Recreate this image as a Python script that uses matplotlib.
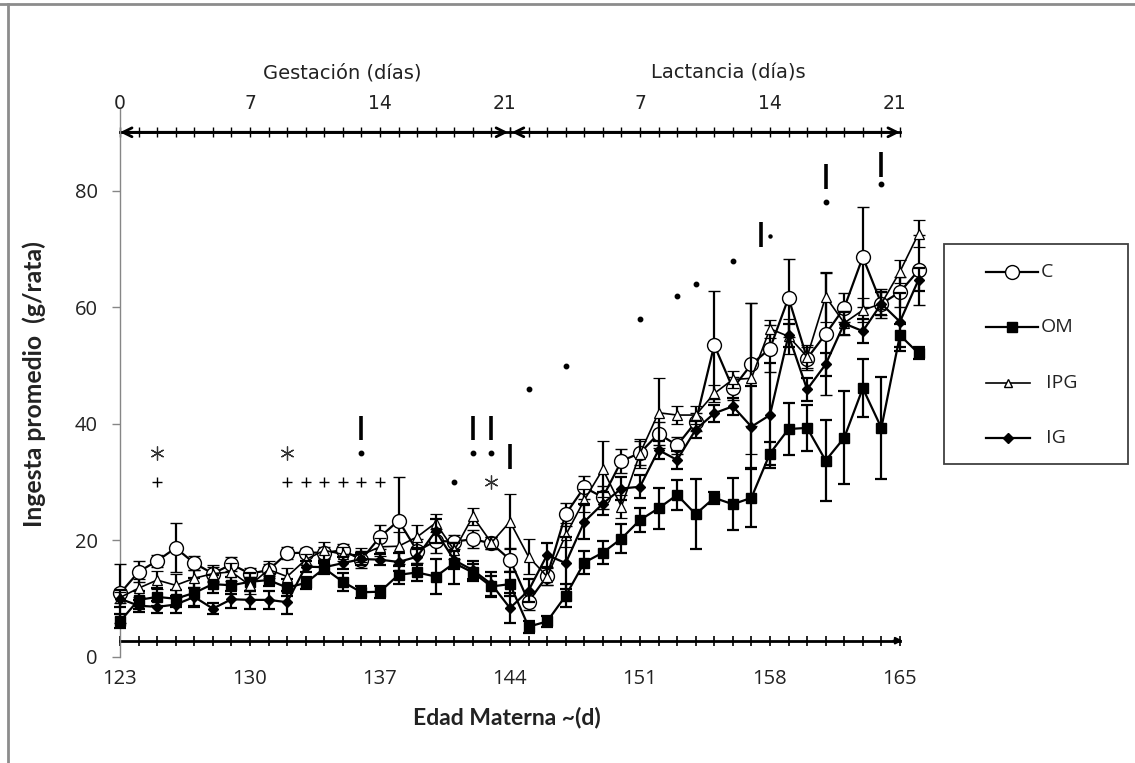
import matplotlib
matplotlib.use("Agg")
import matplotlib.pyplot as plt
from matplotlib.lines import Line2D
from matplotlib.patches import Rectangle

# ---------------- data ----------------
days = list(range(123, 167))

C = [10.9, 14.6, 16.5, 18.7, 16.1, 14.3, 15.9, 14.3, 14.9, 17.8, 17.9, 17.9, 18.3, 16.7, 20.6, 23.4, 18.2, 19.9, 19.8, 20.2, 19.5, 16.7,
     9.5, 13.9, 24.5, 29.1, 27.4, 33.6, 35.0, 38.3, 36.3, 40.3, 53.5, 46.1, 50.2, 52.9, 61.6, 51.2, 55.4, 59.9, 68.6, 60.6, 62.6, 66.3]
C_err = [5.0, 1.8, 1.0, 4.2, 1.2, 1.2, 1.2, 1.0, 1.0, 1.0, 0.8, 1.0, 1.0, 1.5, 2.0, 7.5, 2.0, 2.0, 1.2, 1.5, 1.0, 2.0,
         1.5, 1.5, 2.0, 2.0, 2.0, 2.0, 2.0, 2.0, 1.5, 1.5, 9.2, 2.0, 10.5, 4.0, 6.7, 2.0, 10.5, 2.5, 8.6, 2.5, 2.5, 6.0]

OM = [6.1, 9.8, 10.3, 10.0, 11.0, 12.5, 12.3, 12.9, 13.2, 11.9, 12.7, 15.2, 12.9, 11.1, 11.2, 14.1, 14.5, 13.8, 16.1, 14.5, 12.1, 12.5,
      5.2, 6.1, 10.5, 16.2, 17.9, 20.3, 23.5, 25.5, 27.8, 24.5, 27.3, 26.2, 27.3, 34.9, 39.1, 39.3, 33.7, 37.6, 46.1, 39.3, 55.2, 52.1]
OM_err = [1.2, 1.5, 1.5, 1.5, 2.5, 1.5, 1.5, 1.5, 1.0, 1.5, 1.0, 1.0, 1.5, 1.0, 1.0, 1.5, 1.5, 3.0, 3.5, 1.5, 1.8, 2.0,
          1.0, 1.0, 2.0, 2.0, 2.0, 2.5, 2.0, 3.5, 2.5, 6.0, 1.0, 4.5, 5.0, 2.0, 4.5, 4.0, 7.0, 8.0, 5.0, 8.7, 2.0, 1.0]

IPG = [10.2, 11.8, 13.2, 12.3, 13.5, 14.3, 14.6, 12.3, 15.0, 13.8, 16.7, 18.3, 17.6, 17.5, 18.9, 19.0, 20.6, 23.0, 18.3, 24.1, 19.6, 23.2,
       17.2, 13.8, 20.9, 26.9, 32.2, 25.8, 34.9, 41.9, 41.5, 41.5, 45.2, 47.6, 47.8, 56.3, 55.0, 51.5, 61.8, 57.3, 59.5, 60.6, 66.1, 72.6]
IPG_err = [1.0, 1.5, 1.5, 2.0, 1.5, 1.5, 1.5, 1.5, 1.5, 1.5, 1.0, 1.5, 1.2, 1.2, 1.5, 2.5, 2.0, 1.5, 1.5, 1.5, 1.0, 4.7,
           3.0, 1.5, 2.0, 2.0, 4.8, 2.0, 2.5, 6.0, 1.5, 1.5, 1.5, 1.5, 13.0, 1.5, 3.0, 2.0, 4.3, 2.0, 2.0, 2.0, 2.0, 2.3]

IG = [10.0, 8.8, 8.6, 9.0, 10.3, 8.3, 9.9, 9.8, 9.8, 9.4, 15.5, 15.4, 16.1, 16.8, 16.7, 16.3, 17.2, 21.6, 16.6, 14.9, 12.5, 8.4,
      11.4, 17.5, 16.1, 23.2, 26.3, 28.9, 29.2, 35.5, 33.8, 39.0, 41.8, 43.0, 39.5, 41.5, 55.2, 45.9, 50.2, 57.2, 55.9, 60.6, 57.5, 64.7]
IG_err = [1.5, 1.0, 1.0, 1.5, 1.5, 1.0, 1.5, 1.5, 1.5, 2.0, 1.0, 1.0, 1.0, 1.0, 1.0, 1.5, 1.5, 2.0, 1.5, 1.5, 2.0, 2.5,
          2.0, 2.0, 4.5, 3.0, 2.0, 2.0, 2.0, 1.5, 1.5, 1.5, 1.5, 1.5, 7.0, 9.0, 2.0, 2.0, 2.0, 2.0, 2.0, 2.0, 5.0, 2.0]

series_names = ["C", "OM", "IPG", "IG"]
legend_labels = ["C", "OM", " IPG", " IG"]

# significance marks
star_days = [125, 132, 143]
star_vals = [35, 35, 30]
plus_days = [125, 132, 133, 134, 135, 136, 137]
plus_vals = [30, 30, 30, 30, 30, 30, 30]
dot_days = [136, 141, 142, 143, 145, 147, 151, 153, 154, 156, 161, 164]
dot_vals = [35, 30, 35, 35, 46, 50, 58, 62, 64, 68, 78, 81.2]
small_dot_days = [158]
small_dot_vals = [72.2]
bar_days = [136, 142, 143, 144, 157.5, 161, 164]
bar_lo = [37.2, 37.2, 37.2, 32.3, 70.3, 80.3, 82.3]
bar_hi = [41.4, 41.4, 41.4, 36.5, 74.6, 84.6, 86.6]

xticks = [123, 130, 137, 144, 151, 158, 165]
yticks = [0, 20, 40, 60, 80]
top_days = [123, 130, 137, 144, 151, 158, 165]
top_labels = ["0", "7", "14", "21", "7", "14", "21"]
gest_days = list(range(123, 145))
lact_days = list(range(144, 166))
base_days = list(range(123, 166))

# ---------------- figure ----------------
W, H = 1135, 763
fig = plt.figure(figsize=(W / 100, H / 100), dpi=100)
fig.patch.set_facecolor("white")

ax_left_px, ax_right_px = 120, 120 + 44 * 18.57
y0_px, vtop = 657, 94
ax = fig.add_axes([ax_left_px / W, (H - y0_px) / H, (ax_right_px - ax_left_px) / W,
                   (vtop * 5.83) / H])
ax.set_xlim(123, 167)
ax.set_ylim(0, vtop)
ax.set_facecolor("none")
for s in ["top", "right", "bottom"]:
    ax.spines[s].set_visible(False)
ax.spines["left"].set_color("#868686")
ax.spines["left"].set_linewidth(1.0)

num_font = ["Open Sans", "DejaVu Sans"]
ax.set_yticks(yticks)
ax.set_yticklabels([str(v) for v in yticks], fontsize=14.5, family=num_font, color="#222222")
ax.tick_params(axis="y", direction="out", length=6, width=1, color="#868686", pad=10)
ax.set_xticks(xticks)
ax.set_xticklabels([str(v) for v in xticks], fontsize=14.5, family=num_font, color="#222222")
ax.tick_params(axis="x", length=0, pad=9)

# baseline with day ticks and right arrow
ax.plot(base_days, [2.8] * len(base_days), color="black", lw=2, marker="|", ms=7, mew=1.2, zorder=2, clip_on=False)
ax.annotate("", xy=(165.3, 2.8), xytext=(164.5, 2.8),
            arrowprops=dict(arrowstyle="-|>", color="black", lw=1.5, mutation_scale=10), annotation_clip=False)

# top arrows for gestation / lactation
for dd in (gest_days, lact_days):
    ax.plot(dd, [90] * len(dd), color="black", lw=2, marker="|", ms=7, mew=1.0, clip_on=False, zorder=2)
ax.annotate("", xy=(123.0, 90), xytext=(143.9, 90),
            arrowprops=dict(arrowstyle="<->", color="black", lw=2, mutation_scale=16, shrinkA=0, shrinkB=0),
            annotation_clip=False)
ax.annotate("", xy=(144.1, 90), xytext=(165.0, 90),
            arrowprops=dict(arrowstyle="<->", color="black", lw=2, mutation_scale=16, shrinkA=0, shrinkB=0),
            annotation_clip=False)

narrow = ["DejaVu Sans"]
for d, lab in zip(top_days, top_labels):
    ax.text(d - (0.3 if lab == "21" else 0), 95.0, lab, ha="center", va="center", fontsize=13.5,
            family=narrow, color="#222222", clip_on=False)
ax.text(134.95, 100.2, "Gestación (días)", ha="center", va="center", fontsize=14, family=narrow,
        color="#222222", clip_on=False)
ax.text(155.75, 100.2, "Lactancia (día)s", ha="center", va="center", fontsize=14, family=narrow,
        color="#222222", clip_on=False)

# ---------------- series ----------------
common = dict(color="black", ecolor="black", elinewidth=1.6, capsize=4.5, capthick=1.6, clip_on=False)
ax.errorbar(days, C, yerr=C_err, marker="o", ms=10, mfc="white", mec="black", mew=1.0, lw=1.6,
            label="C", zorder=3, **common)
ax.errorbar(days, OM, yerr=OM_err, marker="s", ms=7.5, mfc="black", mec="black", lw=1.6,
            label="OM", zorder=4, **common)
ax.errorbar(days, IPG, yerr=IPG_err, marker="^", ms=7.5, mfc="white", mec="black", mew=0.9, lw=1.2,
            label="IPG", zorder=5, **common)
ax.errorbar(days, IG, yerr=IG_err, marker="D", ms=5, mfc="black", mec="black", lw=1.6,
            label="IG", zorder=6, **common)

# ---------------- significance marks ----------------
ax.plot(star_days, star_vals, ls="none", marker=(6, 2, 0), ms=10, mew=0.9, color="#333333")
ax.plot(plus_days, plus_vals, ls="none", marker="+", ms=7, mew=1.0, color="black")
ax.plot(dot_days, dot_vals, ls="none", marker="o", ms=3.2, color="black")
ax.plot(small_dot_days, small_dot_vals, ls="none", marker="o", ms=2.2, color="black")
ax.vlines(bar_days, bar_lo, bar_hi, color="black", lw=2.6)

# ---------------- labels ----------------
lab_font = ["Lato", "DejaVu Sans"]
fig.text(34 / W, 1 - 384 / H, "Ingesta promedio  (g/rata)", rotation=90, ha="center", va="center",
         fontsize=17.8, fontweight="bold", family=lab_font, color="#222222")
fig.text(507 / W, 1 - 718 / H, "Edad Materna ~(d)", ha="center", va="center",
         fontsize=16.5, fontweight="bold", family=lab_font, color="#222222")

# ---------------- legend (drawn box + entries) ----------------
fig.add_artist(Rectangle((944 / W, 1 - 464 / H), (1128 - 944) / W, (464 - 244) / H,
                         transform=fig.transFigure, fill=False, edgecolor="#404040", lw=1.3))
leg_styles = [
    dict(marker="o", ms=10, mfc="white", mec="black", lw=1.6),
    dict(marker="s", ms=7.5, mfc="black", mec="black", lw=1.6),
    dict(marker="^", ms=6, mfc="white", mec="black", lw=1.2),
    dict(marker="D", ms=5, mfc="black", mec="black", lw=1.6),
]
leg_line_end = [1038, 1038, 1030, 1030]
for i, (lab, st) in enumerate(zip(legend_labels, leg_styles)):
    yy = 1 - (272 + 55.4 * i) / H
    x1, x2 = 986 / W, leg_line_end[i] / W
    fig.add_artist(Line2D([x1, x2], [yy, yy], transform=fig.transFigure, color="black", lw=st["lw"]))
    fig.add_artist(Line2D([(x1 + x2) / 2], [yy], transform=fig.transFigure, ls="none", marker=st["marker"],
                          ms=st["ms"], mfc=st["mfc"], mec=st["mec"]))
    fig.text(1041 / W, yy, lab, ha="left", va="center", fontsize=14, family=num_font, color="#222222")

# figure border (top and left)
fig.add_artist(Line2D([0, 1], [1 - 4 / H, 1 - 4 / H], transform=fig.transFigure, color="#8c8c8c", lw=2))
fig.add_artist(Line2D([8 / W, 8 / W], [0, 1 - 4 / H], transform=fig.transFigure, color="#8c8c8c", lw=2))

fig.savefig("out.png", dpi=100, facecolor="white")
